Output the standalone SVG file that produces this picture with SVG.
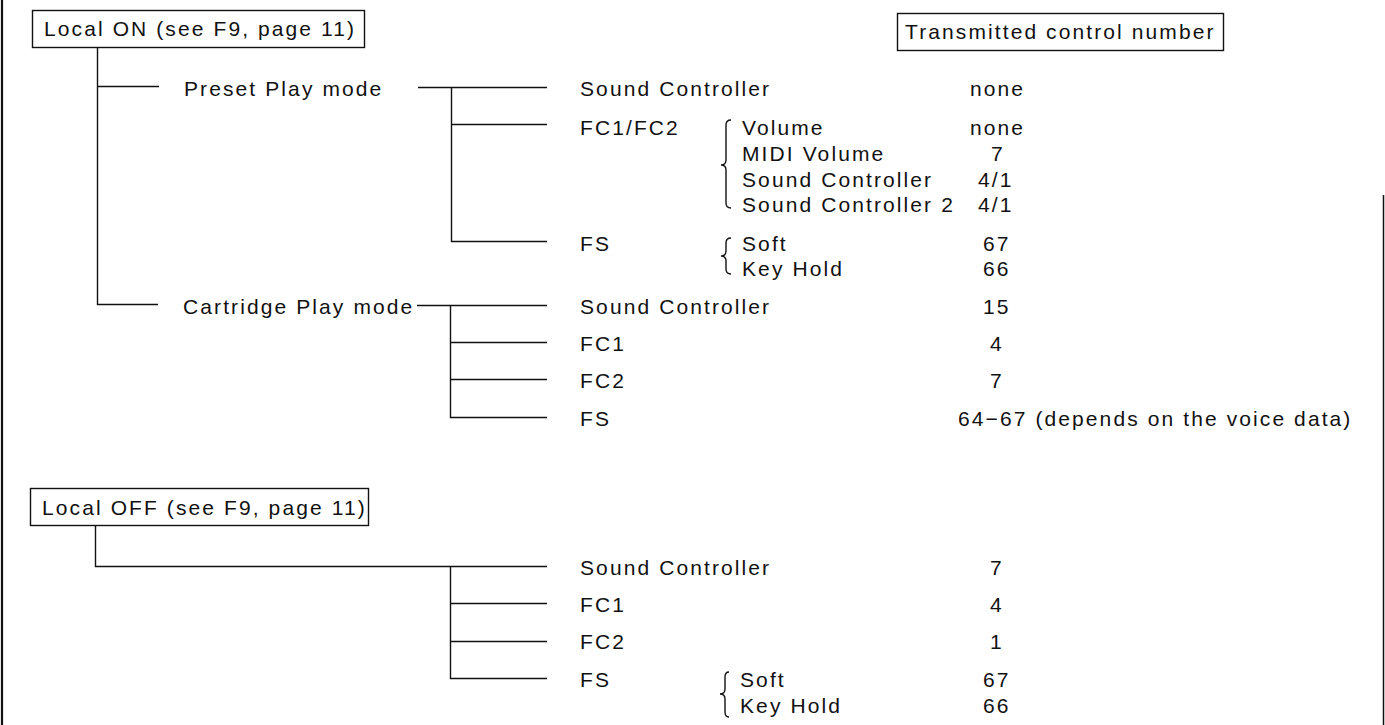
<svg xmlns="http://www.w3.org/2000/svg" width="1385" height="725" viewBox="0 0 1385 725">
<style>
  text { font-family: "Liberation Sans", Arial, sans-serif; font-size: 21px; letter-spacing: 2.1px; fill: #111; }
  .ln { stroke: #111; stroke-width: 1.4; fill: none; }
  .box { stroke: #111; stroke-width: 1.4; fill: #fff; }
  .brace { stroke: #111; stroke-width: 1.4; fill: none; }
  .border { stroke: #111; fill: none; }
</style>
<rect width="1385" height="725" fill="#fff"/>
<g id="page-border">
  <line class="border" x1="2" y1="0" x2="2" y2="725" stroke-width="2.2"/>
  <line class="border" x1="1383.5" y1="195" x2="1383.5" y2="725" stroke-width="1.5"/>
</g>
<g id="connectors">
  <path class="ln" d="M97.5 47 V304.5 H158"/>
  <path class="ln" d="M97.5 86.5 H159"/>
  <path class="ln" d="M418 87.5 H547"/>
  <path class="ln" d="M451.5 87.5 V241.5 H547"/>
  <path class="ln" d="M451.5 124.5 H547"/>
  <path class="ln" d="M417 305.5 H547"/>
  <path class="ln" d="M450.5 305.5 V417.5 H547"/>
  <path class="ln" d="M450.5 342.5 H547"/>
  <path class="ln" d="M450.5 379.5 H547"/>
  <path class="ln" d="M95.5 525 V566.5 H547"/>
  <path class="ln" d="M450.5 566.5 V678.5 H547"/>
  <path class="ln" d="M450.5 603.5 H547"/>
  <path class="ln" d="M450.5 641.5 H547"/>
</g>
<g id="local-on">
  <rect class="box" x="32.5" y="10.5" width="332" height="37"/>
  <text x="44" y="36">Local ON (see F9, page 11)</text>
</g>
<g id="header-transmitted">
  <rect class="box" x="897.5" y="13.5" width="326" height="37"/>
  <text x="905" y="39">Transmitted control number</text>
</g>
<g id="preset-play-mode">
  <text x="184" y="96">Preset Play mode</text>
</g>
<g id="preset-sound-controller">
  <text x="580" y="96">Sound Controller</text>
  <text x="970" y="96">none</text>
</g>
<g id="preset-fc1-fc2">
  <text x="580" y="135">FC1/FC2</text>
  <path class="brace" d="M731 120 Q726 120 726 125 V160 Q726 165 721 165 Q726 165 726 170 V203 Q726 208 731 208"/>
  <text x="742" y="135">Volume</text>
  <text x="970" y="135">none</text>
  <text x="742" y="161">MIDI Volume</text>
  <text x="991" y="161">7</text>
  <text x="742" y="187">Sound Controller</text>
  <text x="978" y="187">4/1</text>
  <text x="742" y="212">Sound Controller 2</text>
  <text x="978" y="212">4/1</text>
</g>
<g id="preset-fs">
  <text x="580" y="251">FS</text>
  <path class="brace" d="M731 238 Q726 238 726 243 V251 Q726 256 721 256 Q726 256 726 261 V269 Q726 274 731 274"/>
  <text x="742" y="251">Soft</text>
  <text x="983" y="251">67</text>
  <text x="742" y="276">Key Hold</text>
  <text x="983" y="276">66</text>
</g>
<g id="cartridge-play-mode">
  <text x="183" y="314">Cartridge Play mode</text>
</g>
<g id="cartridge-sound-controller">
  <text x="580" y="314">Sound Controller</text>
  <text x="983" y="314">15</text>
</g>
<g id="cartridge-fc1">
  <text x="580" y="351">FC1</text>
  <text x="990" y="351">4</text>
</g>
<g id="cartridge-fc2">
  <text x="580" y="388">FC2</text>
  <text x="990" y="388">7</text>
</g>
<g id="cartridge-fs">
  <text x="580" y="426">FS</text>
  <text x="958" y="426">64−67 (depends on the voice data)</text>
</g>
<g id="local-off">
  <rect class="box" x="30.5" y="488.5" width="338" height="37"/>
  <text x="42" y="515">Local OFF (see F9, page 11)</text>
</g>
<g id="off-sound-controller">
  <text x="580" y="575">Sound Controller</text>
  <text x="990" y="575">7</text>
</g>
<g id="off-fc1">
  <text x="580" y="612">FC1</text>
  <text x="990" y="612">4</text>
</g>
<g id="off-fc2">
  <text x="580" y="649">FC2</text>
  <text x="990" y="649">1</text>
</g>
<g id="off-fs">
  <text x="580" y="687">FS</text>
  <path class="brace" d="M729 672 Q725 672 725 677 V689 Q725 694 720 694 Q725 694 725 699 V712 Q725 717 729 717"/>
  <text x="740" y="687">Soft</text>
  <text x="983" y="687">67</text>
  <text x="740" y="713">Key Hold</text>
  <text x="983" y="713">66</text>
</g>
</svg>
